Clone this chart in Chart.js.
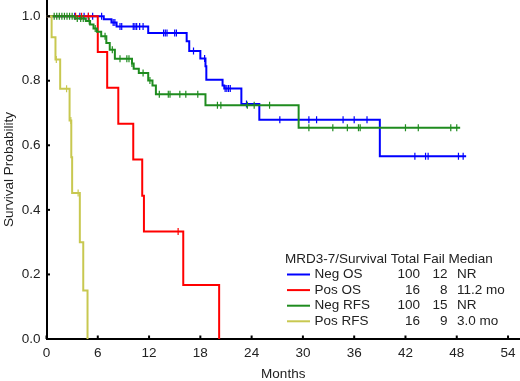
<!DOCTYPE html>
<html>
<head>
<meta charset="utf-8">
<script src="https://cdn.jsdelivr.net/npm/chart.js@4.4.0/dist/chart.umd.min.js"></script>
<style>
  html, body { margin: 0; padding: 0; background: #fff; }
</style>
</head>
<body>
<canvas id="km" width="520" height="381"></canvas>
<script>
// axis ticks
const monthTicks = [0, 6, 12, 18, 24, 30, 36, 42, 48, 54];
const probTicks = [0, 0.2, 0.4, 0.6, 0.8, 1.0];

// Neg OS (time of step, survival after step)
const negOsTimes = [0, 6.7, 7.6, 8.2, 11.9, 16.4, 16.7, 18.0, 18.6, 18.7, 20.6, 20.8, 22.8, 24.9, 39.0, 49.1];
const negOsSurv = [1, 0.99, 0.98, 0.968, 0.948, 0.922, 0.892, 0.869, 0.845, 0.803, 0.785, 0.776, 0.728, 0.679, 0.566, 0.566];
const negOsCensor = [3.3, 3.9, 4.4, 4.9, 5.4, 6.45, 7.8, 8.0, 8.6, 8.8, 10.15, 10.35, 10.55, 10.9, 11.3, 13.7, 13.9, 14.1, 15.0, 15.2, 17.2, 18.5,
  20.9, 21.1, 21.3, 21.5, 23.4, 27.3, 30.7, 31.6, 34.7, 36.0, 37.5, 43.1, 44.35, 44.65, 48.2, 48.75];

// Pos OS
const posOsTimes = [0, 6.0, 7.1, 8.4, 10.15, 11.2, 11.4, 16.0, 20.2];
const posOsSurv = [1, 0.889, 0.778, 0.667, 0.556, 0.444, 0.333, 0.167, 0];
const posOsCensor = [3.4, 4.1, 4.9, 15.4];

// Neg RFS
const negRfsTimes = [0, 3.3, 4.6, 5.1, 5.5, 5.9, 6.4, 7.0, 7.4, 8.0, 10.0, 10.2, 10.8, 11.9, 12.4, 12.8, 18.6, 29.5, 48.4];
const negRfsSurv = [1, 0.993, 0.985, 0.974, 0.962, 0.952, 0.938, 0.917, 0.896, 0.868, 0.853, 0.837, 0.824, 0.801, 0.785, 0.758, 0.724, 0.654, 0.654];
const negRfsCensor = [0.9, 1.2, 1.5, 1.8, 2.1, 2.4, 2.7, 3.0, 3.6, 4.0, 4.3, 5.0, 5.7, 6.85, 7.7, 8.6, 9.4, 9.65, 10.0, 11.3, 12.1,
  13.2, 14.25, 14.45, 15.6, 16.3, 17.7, 20.0, 20.4, 23.5, 24.3, 26.1, 30.7, 33.5, 35.2, 36.5, 36.7, 42.0, 43.5, 47.3, 48.0];

// Pos RFS
const posRfsTimes = [0, 0.6, 1.05, 1.6, 2.7, 2.9, 3.0, 3.9, 4.3, 4.8];
const posRfsSurv = [1, 0.935, 0.866, 0.775, 0.677, 0.563, 0.452, 0.30, 0.15, 0];
const posRfsCensor = [1.15, 2.35, 2.85, 3.7];

// legend table
const groupNames = ['Neg OS', 'Pos OS', 'Neg RFS', 'Pos RFS'];
const groupTotal = [100, 16, 100, 16];
const groupFail = [12, 8, 15, 9];
const groupMedian = ['NR', '11.2 mo', 'NR', '3.0 mo'];
const groupColors = ['#0000ff', '#ff0000', '#1f8c1f', '#c8c850'];

const FONT = "'Liberation Sans', Arial, sans-serif";
const TXT = '#222';

function stepPoints(times, surv) {
    return times.map((t, i) => ({ x: t, y: surv[i] }));
}

// survival value of the curve at time t (for placing censor marks)
function survAt(times, surv, t) {
    let s = surv[0];
    for (let i = 0; i < times.length; i++) {
        if (times[i] <= t) s = surv[i];
    }
    return s;
}

const groups = [
    [negOsTimes, negOsSurv, negOsCensor],
    [posOsTimes, posOsSurv, posOsCensor],
    [negRfsTimes, negRfsSurv, negRfsCensor],
    [posRfsTimes, posRfsSurv, posRfsCensor]
];
// draw order: yellow on top, blue at bottom
const drawOrder = [3, 2, 1, 0];

const datasets = [];
groups.forEach((g, k) => {
    const [times, surv, censor] = g;
    datasets.push({
        type: 'line',
        label: groupNames[k],
        data: stepPoints(times, surv),
        stepped: 'before',
        borderColor: groupColors[k],
        borderWidth: 2,
        pointRadius: 0,
        fill: false,
        order: drawOrder[k] * 2 + 1
    });
    datasets.push({
        type: 'scatter',
        label: groupNames[k] + ' censored',
        data: censor.map(t => ({ x: t, y: survAt(times, surv, t) })),
        showLine: false,
        pointStyle: 'line',
        rotation: 90,
        pointRadius: 3.5,
        borderColor: groupColors[k],
        borderWidth: 1.2,
        order: drawOrder[k] * 2
    });
});

// small inward tick marks
const innerTicks = {
    id: 'innerTicks',
    afterDraw(chart) {
        const { ctx, chartArea, scales: { x, y } } = chart;
        ctx.save();
        ctx.strokeStyle = '#000';
        ctx.lineWidth = 2;
        monthTicks.forEach(v => {
            const px = x.getPixelForValue(v);
            ctx.beginPath();
            ctx.moveTo(px, chartArea.bottom);
            ctx.lineTo(px, chartArea.bottom - 3.5);
            ctx.stroke();
        });
        probTicks.forEach(v => {
            const py = y.getPixelForValue(v);
            ctx.beginPath();
            ctx.moveTo(chartArea.left, py);
            ctx.lineTo(chartArea.left + 3.5, py);
            ctx.stroke();
        });
        ctx.restore();
    }
};

// legend drawn as a table inside the plot
const tableLegend = {
    id: 'tableLegend',
    afterDraw(chart) {
        const ctx = chart.ctx;
        ctx.save();
        ctx.font = '13.5px ' + FONT;
        ctx.fillStyle = TXT;
        ctx.textBaseline = 'middle';
        ctx.textAlign = 'left';
        ctx.fillText('MRD3-7/Survival Total Fail Median', 285, 259);
        groupNames.forEach((name, i) => {
            const yy = 274.5 + i * 15.6;
            ctx.strokeStyle = groupColors[i];
            ctx.lineWidth = 2;
            ctx.beginPath();
            ctx.moveTo(287, yy);
            ctx.lineTo(310, yy);
            ctx.stroke();
            ctx.textAlign = 'left';
            ctx.fillText(name, 314.5, yy);
            ctx.textAlign = 'right';
            ctx.fillText(String(groupTotal[i]), 420, yy);
            ctx.fillText(String(groupFail[i]), 447.5, yy);
            ctx.textAlign = 'left';
            ctx.fillText(groupMedian[i], 457, yy);
        });
        ctx.restore();
    }
};

const ctx = document.getElementById('km').getContext('2d');
const grafico = new Chart(ctx, {
    data: { datasets: datasets },
    options: {
        responsive: false,
        devicePixelRatio: 1,
        animation: false,
        events: [],
        layout: { padding: 0, autoPadding: false },
        plugins: {
            legend: { display: false },
            tooltip: { enabled: false }
        },
        scales: {
            x: {
                type: 'linear',
                min: 0,
                max: 55.4,
                grid: { display: false, drawTicks: false },
                border: { display: true, color: '#000', width: 2 },
                afterBuildTicks: s => { s.ticks = monthTicks.map(v => ({ value: v })); },
                afterFit: s => { s.height = 42; s.paddingLeft = 0; s.paddingRight = 0; },
                ticks: {
                    autoSkip: false,
                    maxRotation: 0,
                    padding: 6,
                    color: TXT,
                    font: { family: FONT, size: 13.5 },
                    callback: v => String(v)
                },
                title: {
                    display: true,
                    text: 'Months',
                    color: TXT,
                    font: { family: FONT, size: 13.5, lineHeight: 1 },
                    padding: { top: 0, bottom: 0 }
                }
            },
            y: {
                type: 'linear',
                min: 0,
                max: 1.05,
                grid: { display: false, drawTicks: false },
                border: { display: true, color: '#000', width: 2 },
                afterBuildTicks: s => { s.ticks = probTicks.map(v => ({ value: v })); },
                afterFit: s => { s.width = 46.5; s.paddingTop = 0; s.paddingBottom = 0; },
                ticks: {
                    autoSkip: false,
                    padding: 6,
                    color: TXT,
                    font: { family: FONT, size: 13.5 },
                    callback: v => Number(v).toFixed(1)
                },
                title: {
                    display: true,
                    text: 'Survival Probability',
                    color: TXT,
                    font: { family: FONT, size: 13.5, lineHeight: 1.2 },
                    padding: { top: 1, bottom: 0 }
                }
            }
        }
    },
    plugins: [innerTicks, tableLegend]
});
</script>
</body>
</html>
